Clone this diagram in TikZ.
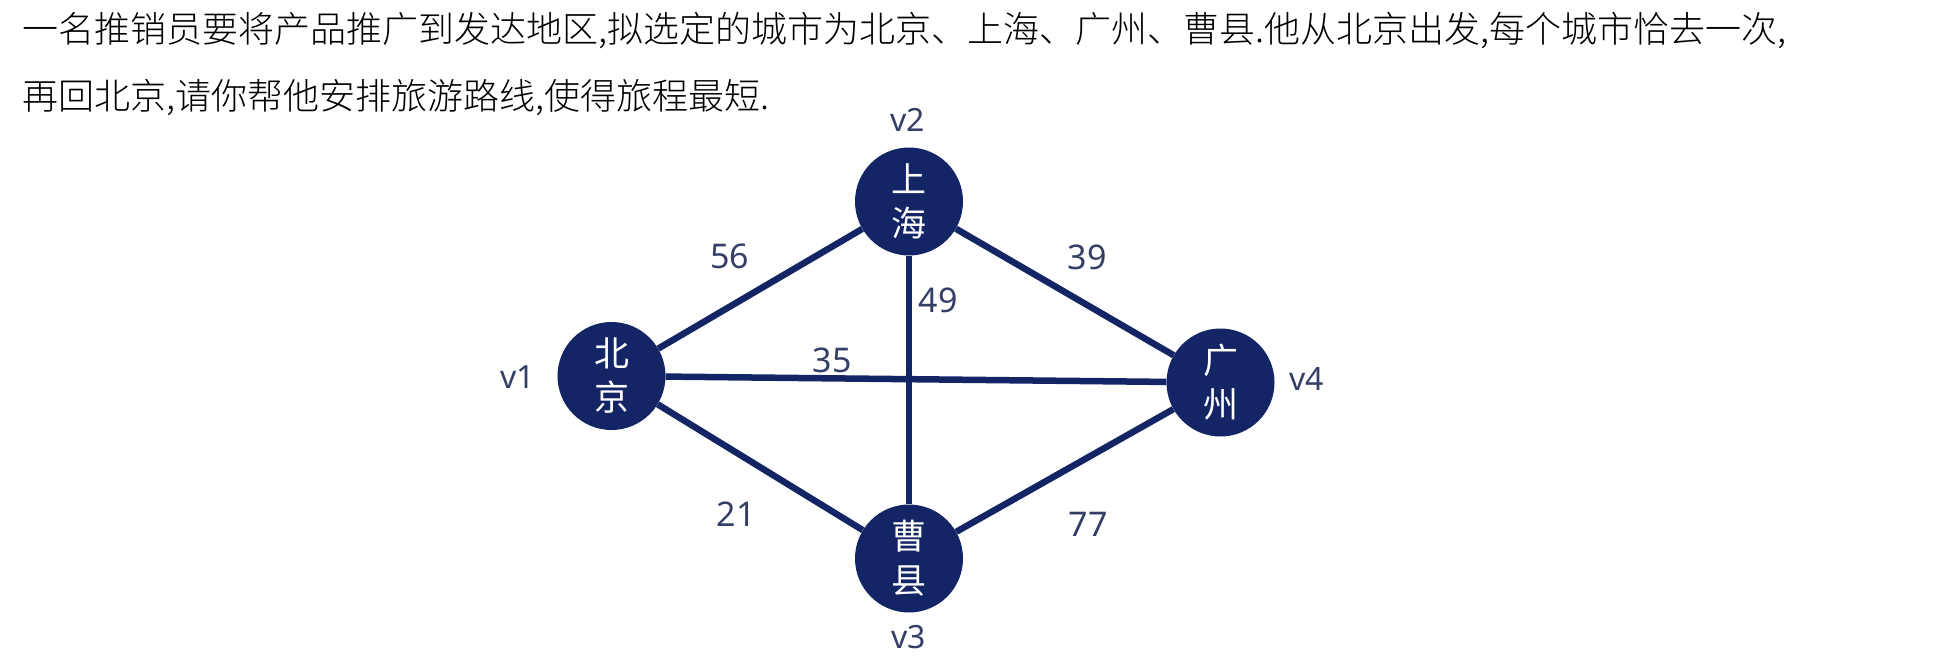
\documentclass[tikz,border=0pt]{standalone}
\usepackage{fontspec}
\setmainfont{Noto Sans}
\newfontfamily\cjksans{Noto Sans CJK SC}
\newfontfamily\cjklight{Noto Sans CJK SC Light}
\definecolor{navy}{RGB}{20,37,102}
\definecolor{labelc}{RGB}{52,62,102}
\begin{document}
\begin{tikzpicture}[x=1pt,y=-1pt,
  city/.style={circle,fill=navy,draw=none,minimum size=108pt,inner sep=0pt,
    text=white,align=center,font=\cjksans\fontsize{35}{44}\selectfont},
  edge/.style={draw=navy,line width=6.5pt},
  wlabel/.style={text=labelc,inner sep=0pt,font=\fontsize{34}{36}\selectfont},
  vlabel/.style={text=labelc,inner sep=0pt,font=\fontsize{32}{34}\selectfont},
  title/.style={anchor=base west,inner sep=0pt,font=\cjklight\fontsize{36}{40}\selectfont}]
\path[use as bounding box] (0,0) rectangle (1934,658);
\node[title] (t1) at (22,43) {一名推销员要将产品推广到发达地区,拟选定的城市为北京、上海、广州、曹县.他从北京出发,每个城市恰去一次,};
\node[title] (t2) at (22,110) {再回北京,请你帮他安排旅游路线,使得旅程最短.};
\node[city] (bj) at (611.5,376) {北\\京};
\node[city] (sh) at (909,201.5) {上\\海};
\node[city] (cx) at (909,558.5) {曹\\县};
\node[city] (gz) at (1220.5,382.5) {广\\州};
\draw[edge] (bj) -- (sh);
\draw[edge] (sh) -- (gz);
\draw[edge] (sh) -- (cx);
\draw[edge] (bj) -- (gz);
\draw[edge] (bj) -- (cx);
\draw[edge] (cx) -- (gz);
\node[wlabel] (l56) at (729.5,256) {56};
\node[wlabel] (l39) at (1087,257) {39};
\node[wlabel] (l49) at (938,300) {49};
\node[wlabel] (l35) at (832,360) {35};
\node[wlabel] (l21) at (736,514) {21};
\node[wlabel] (l77) at (1088,524) {77};
\node[vlabel] (v1) at (518,377) {v1};
\node[vlabel] (v2) at (908,120) {v2};
\node[vlabel,anchor=base,text depth=0pt] (v3) at (909,648) {v3};
\node[vlabel] (v4) at (1307,379) {v4};
\end{tikzpicture}
\end{document}
